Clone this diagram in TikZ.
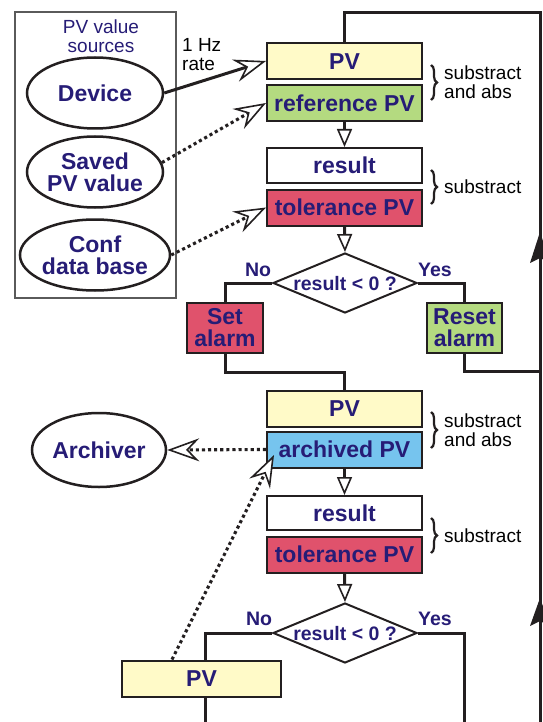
\documentclass[tikz,border=0pt]{standalone}
\usepackage{fontspec}
\setmainfont{Liberation Sans}
\usetikzlibrary{arrows.meta,shapes.geometric,decorations.pathreplacing}
\definecolor{navy}{RGB}{38,28,118}
\definecolor{boxline}{RGB}{35,31,32}
\definecolor{pvyellow}{RGB}{255,250,200}
\definecolor{pvgreen}{RGB}{180,218,128}
\definecolor{pvred}{RGB}{224,82,108}
\definecolor{pvblue}{RGB}{118,196,238}
\definecolor{grpgray}{RGB}{90,90,90}
\newcommand{\boxfont}{\fontsize{23pt}{22pt}\selectfont\bfseries}
\newcommand{\notefont}{\fontsize{19pt}{19pt}\selectfont}
\tikzset{
  pvbox/.style={rectangle, draw=boxline, line width=2pt, minimum width=155pt, minimum height=36pt,
    inner sep=0pt, font=\boxfont, text=navy, text height=16.5pt, text depth=0pt},
  alarmbox/.style={rectangle, draw=boxline, line width=2pt, minimum width=76pt, minimum height=50pt,
    inner sep=0pt, font=\boxfont, text=navy, align=center},
  src/.style={ellipse, draw=boxline, line width=2.5pt, minimum width=136pt, minimum height=71pt,
    inner sep=0pt, font=\boxfont, text=navy, align=center},
  decision/.style={diamond, draw=boxline, line width=2pt, minimum width=144pt, minimum height=60pt,
    aspect=2.4, inner sep=0pt, font=\fontsize{19.5pt}{18pt}\selectfont\bfseries, text=navy,
    text height=14pt, text depth=0pt},
  wire/.style={line width=3pt, draw=boxline},
  flow/.style={wire, -{Triangle[length=18pt,width=15pt,line width=1.6pt,fill=white]}},
  bigtip/.style={-{Stealth[length=32pt,width=23pt,inset=11pt,line width=1.6pt,fill=white]}},
  dots/.style={draw=boxline, line width=3.1pt, dash pattern=on 3.1pt off 3pt},
  answer/.style={font=\fontsize{19.5pt}{19pt}\selectfont\bfseries, text=navy, inner sep=0pt},
  note/.style={font=\notefont, align=left, inner sep=0pt, anchor=west},
  bracket/.style={draw=boxline, line width=2.2pt, decorate, decoration={brace, amplitude=6pt}}
}
\begin{document}
\begin{tikzpicture}[x=1pt,y=-1pt]
\useasboundingbox (0,0) rectangle (542,722);

% source group
\node[rectangle, draw=grpgray, line width=1.2pt, minimum width=161pt, minimum height=286pt, inner sep=0pt] (grp) at (95.5,155) {};
\node[font=\fontsize{19pt}{19pt}\selectfont, text=navy, align=center, inner sep=0pt] (grptitle) at (101,36) {PV value\\sources};
\node[src] (dev) at (95,93) {Device};
\node[src] (saved) at (95,172) {Saved\\PV value};
\node[src] (conf) at (95,255) {Conf\\data base};
\node[note] (rate) at (182,55) {1 Hz\\rate};

% first block
\node[pvbox, fill=pvyellow] (pv1) at (344.5,61) {PV};
\node[pvbox, fill=pvgreen] (ref1) at (344.5,103) {reference PV};
\node[pvbox, fill=white, minimum height=35pt] (res1) at (344.5,165.5) {result};
\node[pvbox, fill=pvred] (tol1) at (344.5,207.5) {tolerance PV};
\node[decision] (dia1) at (345,283) {result < 0 ?};
\node[alarmbox, fill=pvred] (set) at (225,328) {Set\\alarm};
\node[alarmbox, fill=pvgreen, minimum width=75pt] (reset) at (464.5,328) {Reset\\alarm};
\node[answer] (no1) at (258,270) {No};
\node[answer] (yes1) at (435,270) {Yes};

% second block
\node[pvbox, fill=pvyellow] (pv2) at (344.5,408.5) {PV};
\node[pvbox, fill=pvblue] (arch) at (344.5,449.5) {archived PV};
\node[pvbox, fill=white, minimum height=34pt] (res2) at (344.5,513) {result};
\node[pvbox, fill=pvred] (tol2) at (344.5,554.5) {tolerance PV};
\node[decision] (dia2) at (345,633) {result < 0 ?};
\node[answer] (no2) at (259,619) {No};
\node[answer] (yes2) at (435,619) {Yes};
\node[pvbox, fill=pvyellow, minimum width=159pt] (pv3) at (201.5,678.5) {PV};
\node[src, minimum width=134pt, minimum height=74pt] (archiver) at (99,450) {Archiver};

% notes with braces
\draw[bracket] (431,65) -- (431,100);
\node[note] (n1) at (444,82) {substract\\and abs};
\draw[bracket] (431,170) -- (431,204);
\node[note] (n2) at (444,187) {substract};
\draw[bracket] (431,412) -- (431,448);
\node[note] (n3) at (444,430) {substract\\and abs};
\draw[bracket] (431,518) -- (431,553);
\node[note] (n4) at (444,536) {substract};

% coordinates for loop lines
\coordinate (rtop) at (540,12.5);
\coordinate (rbot) at (540,735);
\coordinate (rmid) at (540,371);
\coordinate (bl) at (205,735);
\coordinate (br) at (464,735);
\coordinate (archin) at (274,455);

% loop lines
\draw[wire] (rbot) -- (rtop) -| (pv1.north);
\draw[wire] (reset.south) |- (rmid);
\draw[wire] (set.south) -- ++(0,18) -| (pv2.north);
\draw[wire] (dia1.west) -| (set.north);
\draw[wire] (dia1.east) -| (reset.north);
\draw[wire] (dia2.west) -| ([xshift=3.5pt]pv3.north);
\draw[wire] ([xshift=3.5pt]pv3.south) -- (bl);
\draw[wire] (dia2.east) -| (br);
\fill[boxline] (540,232) -- (550,263) -- (540,258) -- (530,263) -- cycle;
\fill[boxline] (540,598) -- (550,626) -- (540,621) -- (530,626) -- cycle;

% flow arrows
\draw[flow] (ref1.south) -- (res1.north);
\draw[flow] (tol1.south) -- (dia1.north);
\draw[flow] (arch.south) -- (res2.north);
\draw[flow] (tol2.south) -- (dia2.north);

% source arrows
\draw[wire, bigtip] (dev.east) -- (pv1.west);
\draw[dots, bigtip] (saved.8) -- (ref1.west);
\draw[dots, bigtip] (conf.east) -- (tol1.west);
\draw[dots, bigtip] (arch.west) -- (archiver.east);
\draw[dots, bigtip] ([xshift=-29.5pt]pv3.north) -- (archin);
\end{tikzpicture}
\end{document}
